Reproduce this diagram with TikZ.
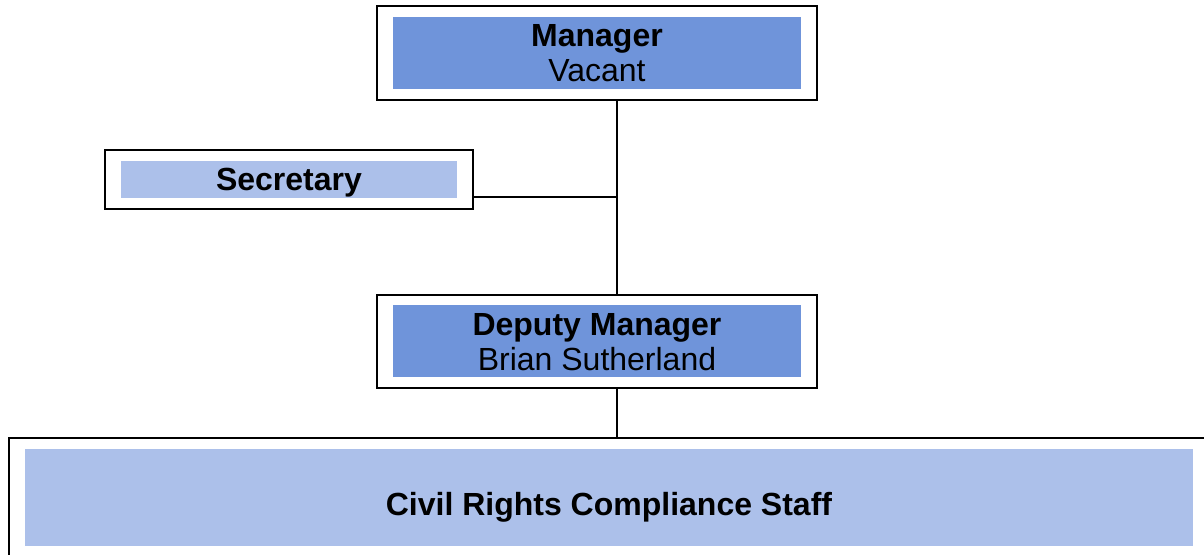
\documentclass[tikz,border=0pt]{standalone}
\usepackage{fontspec}
\setmainfont{Liberation Sans}
\usepackage{xcolor}
\usetikzlibrary{
	positioning,   %定位
	fit,           %外框
	calc           %计算
}
\definecolor{mgrblue}{RGB}{111,148,218}
\definecolor{staffblue}{RGB}{172,192,234}
\tikzset{
	every picture/.style={
		x=0.75pt,y=-0.75pt
	},
	post/.style={
		fill=mgrblue,
		inner sep=0pt,
		minimum width=306pt,
		minimum height=54pt,
		align=center,
		text height=43.5pt,
		text depth=0pt,
		font=\fontsize{24}{26.5}\selectfont
	},
	lightpost/.style={
		post,
		fill=staffblue
	},
	frame/.style={
		draw=black,
		line width=1.5pt,
		inner xsep=12pt,
		inner ysep=8pt
	},
	link/.style={
		draw=black,
		line width=1.3pt
	}
}

\begin{document}
\begin{tikzpicture}
\useasboundingbox (0,0) rectangle (1204,555);
%经理
\node[post] (mgr) at (597,53) {\textbf{Manager}\\Vacant};
\node[frame,fit=(mgr)] (mgrbox) {};
%秘书
\node[lightpost,minimum width=252pt,minimum height=27.5pt,
	text height=17.1pt] (sec) at (289,179.3) {\textbf{Secretary}};
\node[frame,fit=(sec)] (secbox) {};
%副经理
\node[post] (dep) at (597,341.5) {\textbf{Deputy Manager}\\Brian Sutherland};
\node[frame,fit=(dep)] (depbox) {};
%下面的员工框
\node[lightpost,minimum width=876pt,minimum height=72.75pt,
	text height=27.3pt] (staff) at (609,497.5) {\textbf{Civil Rights Compliance Staff}};
\node[frame,fit=(staff)] (staffbox) {};
%连线
\coordinate (trunk) at (617,197);
\draw[link] (mgrbox.south -| trunk) -- (depbox.north -| trunk);
\draw[link] (secbox.east |- trunk) -- (trunk);
\draw[link] (depbox.south -| trunk) -- (staffbox.north -| trunk);
\end{tikzpicture}
\end{document}
